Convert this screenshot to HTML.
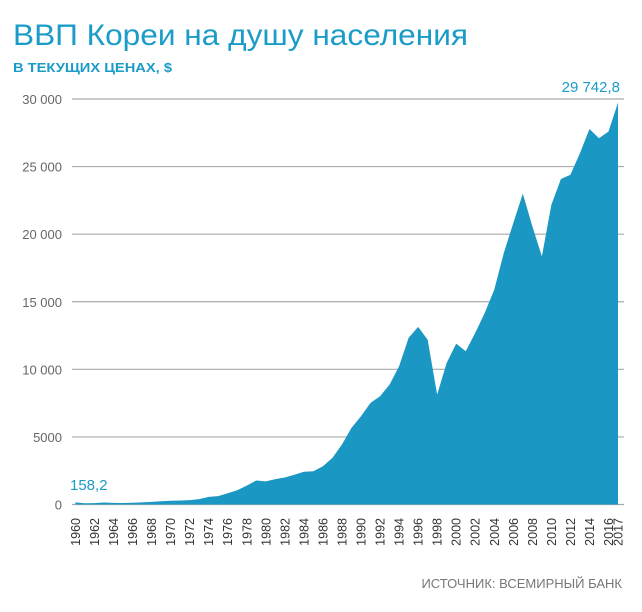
<!DOCTYPE html>
<html><head><meta charset="utf-8"><style>
html,body{margin:0;padding:0;background:#fff;}
svg{display:block;font-family:"Liberation Sans",sans-serif;}
</style></head><body>
<svg id="chart" width="642" height="612" viewBox="0 0 642 612">
<text x="13" y="45" font-size="30" fill="#1b9cc8" textLength="455" lengthAdjust="spacingAndGlyphs">ВВП Кореи на душу населения</text>
<text x="13" y="72" font-size="12.5" font-weight="bold" fill="#1b9cc8" textLength="159" lengthAdjust="spacingAndGlyphs">В ТЕКУЩИХ ЦЕНАХ, $</text>
<g id="grid"></g>
<path id="area" fill="#1a97c2"></path>
<g id="yax"></g>
<g id="xax"></g>
<text x="70" y="490" font-size="15" fill="#1b9cc8">158,2</text>
<text x="620" y="92" font-size="15" fill="#1b9cc8" text-anchor="end">29 742,8</text>
<text x="622" y="588" font-size="13" fill="#777" text-anchor="end">ИСТОЧНИК: ВСЕМИРНЫЙ БАНК</text>
</svg>
<script>
const years=[];for(let y=1960;y<=2017;y++)years.push(y);
const values=[158,94,106,146,124,108,133,161,198,243,280,300,320,400,560,620,830,1050,1400,1780,1710,1880,2000,2200,2420,2460,2830,3450,4440,5670,6530,7520,8010,8870,10230,12330,13140,12200,8130,10480,11900,11340,12700,14180,15900,18610,20830,23000,20580,18360,22180,24080,24400,26000,27780,27100,27600,29742.8];
const yTicks=[0,5000,10000,15000,20000,25000,30000];
const yTickLabels=["0","5000","10 000","15 000","20 000","25 000","30 000"];
const xLabelYears=[1960,1962,1964,1966,1968,1970,1972,1974,1976,1978,1980,1982,1984,1986,1988,1990,1992,1994,1996,1998,2000,2002,2004,2006,2008,2010,2012,2014,2016,2017];
const NS="http://www.w3.org/2000/svg";
const X=y=>75.4+(y-1960)*9.52;
const Y=v=>504.5-v/30000*405.5;
const grid=document.getElementById('grid'),yax=document.getElementById('yax'),xax=document.getElementById('xax');
yTicks.forEach((t,i)=>{
 const l=document.createElementNS(NS,'line');
 l.setAttribute('x1',72);l.setAttribute('x2',624);l.setAttribute('y1',Y(t));l.setAttribute('y2',Y(t));
 l.setAttribute('stroke','#aaa');l.setAttribute('stroke-width','1.2');
 
 
 grid.appendChild(l);
 const tx=document.createElementNS(NS,'text');
 tx.setAttribute('x',62);tx.setAttribute('y',Y(t)+5);tx.setAttribute('text-anchor','end');
 tx.setAttribute('font-size','13');tx.setAttribute('fill','#666');tx.textContent=yTickLabels[i];
 
 
 yax.appendChild(tx);
});
let d='M'+X(years[0])+','+Y(0);
years.forEach((yr,i)=>{d+=' L'+X(yr)+','+Y(values[i]);});
d+=' L'+X(years[years.length-1])+','+Y(0)+' Z';
document.getElementById('area').setAttribute('d',d);
xLabelYears.forEach(yr=>{
 const tx=document.createElementNS(NS,'text');
 const x=X(yr)+4.5,y=518;
 tx.setAttribute('x',x);tx.setAttribute('y',y);tx.setAttribute('text-anchor','end');
 tx.setAttribute('transform','rotate(-90 '+x+' '+y+')');
 tx.setAttribute('font-size','12.5');tx.setAttribute('fill','#333');tx.textContent=yr;
 
 
 xax.appendChild(tx);
});
</script>
</body></html>
